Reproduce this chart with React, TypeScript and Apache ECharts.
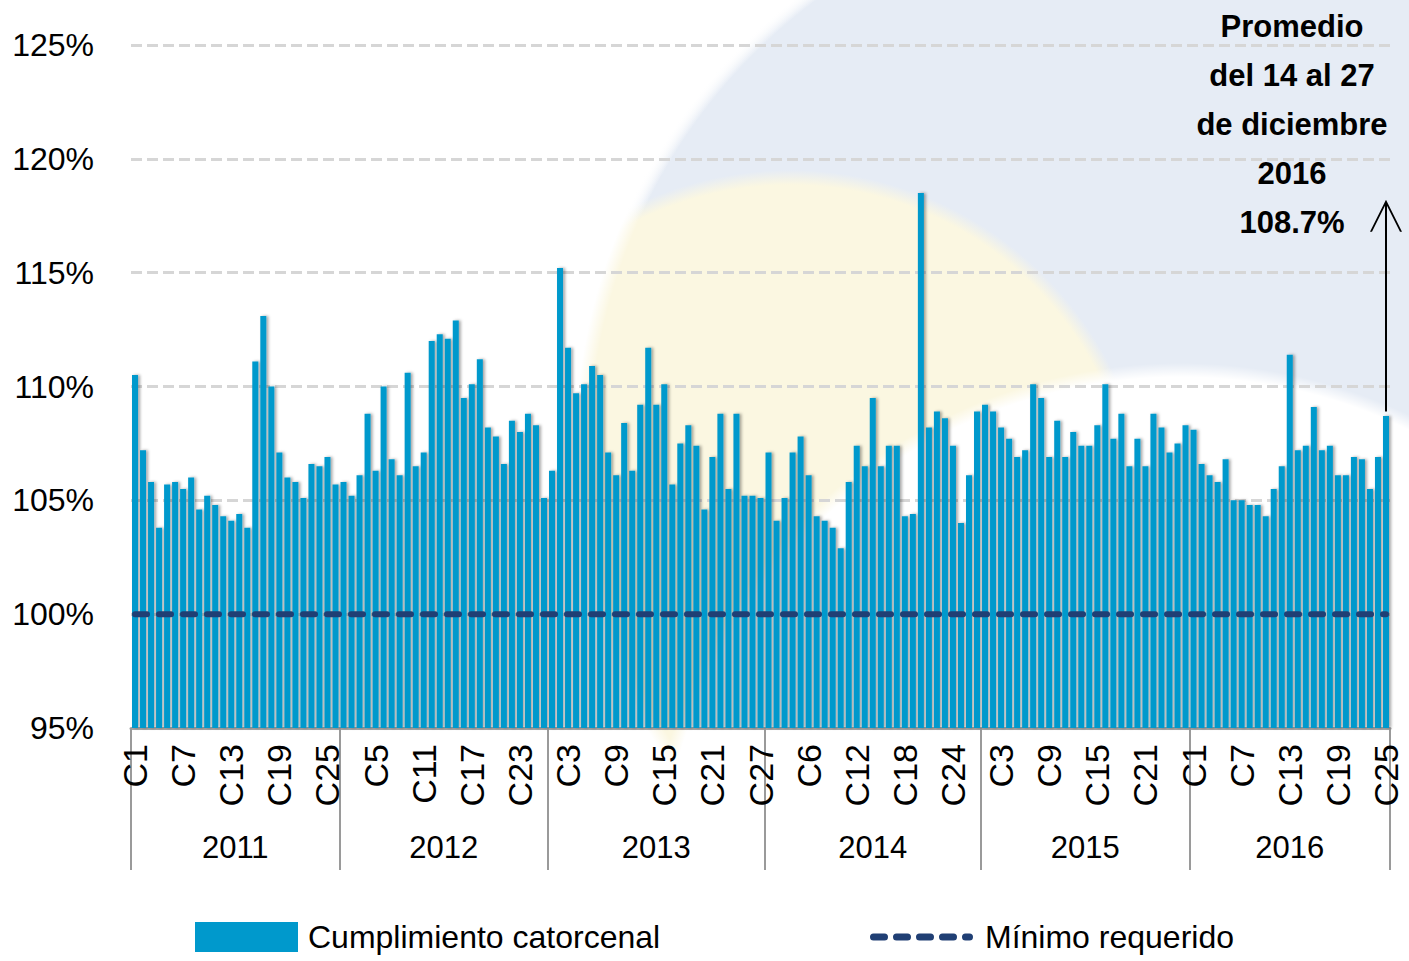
import React, { useEffect, useRef } from 'react';
import * as echarts from 'echarts';

const FONT = "'Liberation Sans', Arial, 'DejaVu Sans', sans-serif";

const YEARS = ['2011', '2012', '2013', '2014', '2015', '2016'];

const V2011 = [110.5, 107.2, 105.8, 103.8, 105.7, 105.8, 105.5, 106.0, 104.6, 105.2, 104.8, 104.3, 104.1, 104.4, 103.8, 111.1, 113.1, 110.0, 107.1, 106.0, 105.8, 105.1, 106.6, 106.5, 106.9, 105.7];
const V2012 = [105.8, 105.2, 106.1, 108.8, 106.3, 110.0, 106.8, 106.1, 110.6, 106.5, 107.1, 112.0, 112.3, 112.1, 112.9, 109.5, 110.1, 111.2, 108.2, 107.8, 106.6, 108.5, 108.0, 108.8, 108.3, 105.1];
const V2013 = [106.3, 115.2, 111.7, 109.7, 110.1, 110.9, 110.5, 107.1, 106.1, 108.4, 106.3, 109.2, 111.7, 109.2, 110.1, 105.7, 107.5, 108.3, 107.4, 104.6, 106.9, 108.8, 105.5, 108.8, 105.2, 105.2, 105.1];
const V2014 = [107.1, 104.1, 105.1, 107.1, 107.8, 106.1, 104.3, 104.1, 103.8, 102.9, 105.8, 107.4, 106.5, 109.5, 106.5, 107.4, 107.4, 104.3, 104.4, 118.5, 108.2, 108.9, 108.6, 107.4, 104.0, 106.1, 108.9];
const V2015 = [109.2, 108.9, 108.2, 107.7, 106.9, 107.2, 110.1, 109.5, 106.9, 108.5, 106.9, 108.0, 107.4, 107.4, 108.3, 110.1, 107.7, 108.8, 106.5, 107.7, 106.5, 108.8, 108.2, 107.1, 107.5, 108.3];
const V2016 = [108.1, 106.6, 106.1, 105.8, 106.8, 105.0, 105.0, 104.8, 104.8, 104.3, 105.5, 106.5, 111.4, 107.2, 107.4, 109.1, 107.2, 107.4, 106.1, 106.1, 106.9, 106.8, 105.5, 106.9, 108.7];

const YEAR_VALUES = [V2011, V2012, V2013, V2014, V2015, V2016];
const MIN_REQUIRED = 100;
const Y_MIN = 95;
const Y_MAX = 125;
const Y_STEP = 5;
const ARROW_FROM = 108.9;
const ARROW_TO = 117.5;

const SERIES_BAR = 'Cumplimiento catorcenal';
const SERIES_LINE = 'Mínimo requerido';

const PERIODS = YEAR_VALUES.map((v) => v.length);
const CATEGORIES: string[] = YEAR_VALUES.flatMap((v) => v.map((_, i) => 'C' + (i + 1)));
const CUMPLIMIENTO: number[] = YEAR_VALUES.flat();
const MINIMO: number[] = CATEGORIES.map(() => MIN_REQUIRED);

const STARTS: number[] = [];
{
  let acc = 0;
  PERIODS.forEach((p) => {
    STARTS.push(acc);
    acc += p;
  });
}
const MIDS = PERIODS.map((p, i) => STARTS[i] + Math.floor((p - 1) / 2));

const LAST_VALUE = V2016[V2016.length - 1];

const ARROW_PATH = 'path://M16,0L32,32L30,32L16,4L2,32L0,32Z M15,2L17,2L17,32L15,32Z';

const pill = (x0: number, len: number) => {
  const r = 3.5;
  return `M${x0 + r},0H${x0 + len - r}A${r},${r},0,0,1,${x0 + len - r},7H${x0 + r}A${r},${r},0,0,1,${x0 + r},0Z`;
};
const DASH_ICON = 'path://' + [pill(0, 18), pill(23, 18), pill(46, 18), pill(69, 18), pill(92, 11)].join(' ');

export default function App() {
  const ref = useRef<HTMLDivElement>(null);

  useEffect(() => {
    if (!ref.current) return;
    const chart = echarts.init(ref.current, null, { renderer: 'svg' });
    const lastIndex = CATEGORIES.length - 1;
    const option: any = {
      animation: false,
      textStyle: { fontFamily: FONT },
      grid: { left: 131, right: 19, top: 45, bottom: 233, containLabel: false, outerBoundsMode: 'none' },
      legend: [
        {
          data: [{ name: SERIES_BAR, icon: 'rect' }],
          left: 190,
          top: 916,
          itemWidth: 103,
          itemHeight: 30,
          textStyle: { fontSize: 32, color: '#000', fontFamily: FONT, padding: [0, 0, 0, 5] },
          selectedMode: false,
        },
        {
          data: [{ name: SERIES_LINE, icon: DASH_ICON }],
          left: 865,
          top: 916,
          itemWidth: 103,
          itemHeight: 30,
          symbolKeepAspect: true,
          itemStyle: { color: '#203F74' },
          textStyle: { fontSize: 32, color: '#000', fontFamily: FONT, padding: [0, 0, 0, 7] },
          selectedMode: false,
        },
      ],
      xAxis: [
        {
          type: 'category',
          position: 'bottom',
          data: CATEGORIES,
          boundaryGap: true,
          axisLine: { show: true, lineStyle: { color: '#a6a6a6', width: 3 } },
          axisTick: { show: false },
          axisLabel: {
            interval: 5,
            rotate: 90,
            margin: 16,
            fontSize: 34,
            color: '#000',
            fontFamily: FONT,
          },
          splitLine: { show: false },
        },
        {
          type: 'category',
          position: 'bottom',
          data: CATEGORIES,
          boundaryGap: true,
          axisLine: { show: false },
          axisTick: {
            show: true,
            length: 142,
            interval: (index: number) => STARTS.includes(index),
            lineStyle: { color: '#9a9a9a', width: 2 },
          },
          axisLabel: {
            interval: (index: number) => MIDS.includes(index),
            margin: 104,
            fontSize: 31,
            color: '#000',
            fontFamily: FONT,
            formatter: (_v: string, index: number) => {
              const g = MIDS.indexOf(index);
              if (g < 0) return '';
              return PERIODS[g] % 2 === 0 ? `{e|${YEARS[g]}}` : `{o|${YEARS[g]}}`;
            },
            rich: {
              e: { fontSize: 31, fontFamily: FONT, color: '#000', padding: [0, 0, 0, 8] },
              o: { fontSize: 31, fontFamily: FONT, color: '#000' },
            },
          },
          splitLine: { show: false },
        },
      ],
      yAxis: {
        type: 'value',
        min: Y_MIN,
        max: Y_MAX,
        interval: Y_STEP,
        axisLine: { show: false },
        axisTick: { show: false },
        axisLabel: {
          formatter: '{value}%',
          fontSize: 32,
          color: '#000',
          margin: 37,
          fontFamily: FONT,
        },
        splitLine: { show: true, lineStyle: { color: '#d6d6d6', width: 3, type: [11, 5] } },
      },
      series: [
        {
          name: SERIES_BAR,
          type: 'bar',
          data: CUMPLIMIENTO,
          barCategoryGap: '25%',
          itemStyle: {
            color: '#0099CC',
            shadowColor: 'rgba(0,0,0,0.35)',
            shadowBlur: 3,
            shadowOffsetX: 2,
          },
          markLine: {
            silent: true,
            symbol: ['none', ARROW_PATH],
            symbolSize: 32,
            label: { show: false },
            lineStyle: { color: '#000', width: 2, type: 'solid' },
            data: [[{ coord: [lastIndex, ARROW_FROM] }, { coord: [lastIndex, ARROW_TO] }]],
          },
        },
        {
          name: SERIES_LINE,
          type: 'line',
          data: MINIMO,
          symbol: 'none',
          z: 5,
          lineStyle: { color: '#203F74', width: 6, type: [12, 12], cap: 'round' },
          itemStyle: { color: '#203F74' },
        },
      ],
      graphic: [
        {
          type: 'text',
          x: 1292,
          y: 2,
          style: {
            text: `Promedio\ndel 14 al 27\nde diciembre\n${YEARS[YEARS.length - 1]}\n${LAST_VALUE}%`,
            fontSize: 31,
            fontWeight: 'bold',
            fontFamily: FONT,
            lineHeight: 49,
            align: 'center',
            verticalAlign: 'top',
            fill: '#000',
          },
        },
      ],
    };
    chart.setOption(option);
    return () => chart.dispose();
  }, []);

  const bg = [
    'radial-gradient(circle 530px at 1180px 897px, #ffffff 520px, rgba(255,255,255,0) 534px)',
    'radial-gradient(circle 575px at 1150px 450px, rgba(255,255,255,0) 560px, #ffffff 575px)',
    'radial-gradient(circle 360px at 790px 530px, #fbf7e1 345px, rgba(251,247,225,0) 360px)',
    'radial-gradient(circle 575px at 1150px 450px, #e6ecf5 560px, rgba(230,236,245,0) 575px)',
  ].join(', ');

  return (
    <div
      ref={ref}
      style={{
        position: 'fixed',
        left: 0,
        top: 0,
        width: 1409,
        height: 961,
        backgroundColor: '#ffffff',
        backgroundImage: bg,
      }}
    />
  );
}
